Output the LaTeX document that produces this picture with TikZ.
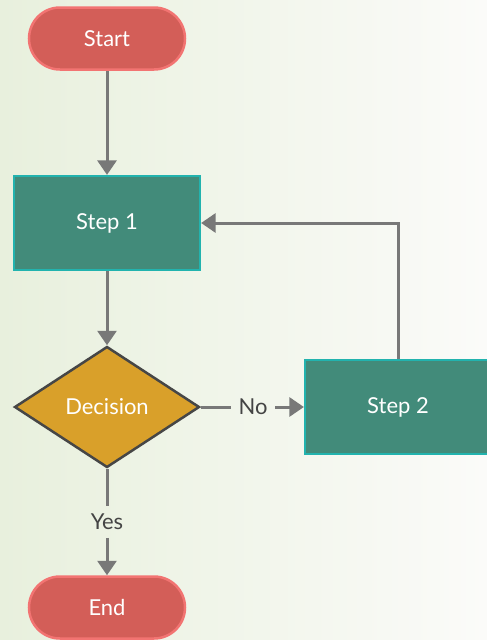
\documentclass[tikz,border=0pt]{standalone}
\usepackage{fontspec}
\setmainfont{Lato}
\usetikzlibrary{arrows.meta,shapes.geometric}
\definecolor{termfill}{HTML}{D35E58}
\definecolor{termline}{HTML}{F27472}
\definecolor{stepfill}{HTML}{428B7A}
\definecolor{stepline}{HTML}{22B3AE}
\definecolor{decfill}{HTML}{D9A02A}
\definecolor{decline}{HTML}{464646}
\definecolor{flow}{HTML}{787878}
\definecolor{labtext}{HTML}{444444}
\definecolor{bgleft}{HTML}{E8F0DD}
\definecolor{bgmid}{HTML}{F3F6EE}
\definecolor{bgright}{HTML}{FBFBF9}

\begin{document}
\begin{tikzpicture}[x=0.2mm,y=-0.2mm,
  terminal/.style={draw=termline,fill=termfill,line width=0.5mm,rounded corners=6.2mm,
    minimum width=31.2mm,minimum height=12.4mm,text=white,font=\fontsize{12.5}{14}\selectfont},
  stepbox/.style={draw=stepline,fill=stepfill,line width=0.45mm,
    minimum width=37.2mm,minimum height=18.8mm,text=white,font=\fontsize{12.5}{14}\selectfont},
  decision/.style={diamond,draw=decline,fill=decfill,line width=0.5mm,inner sep=0pt,
    minimum width=37mm,minimum height=24.2mm,text=white,font=\fontsize{12.5}{14}\selectfont},
  flowlabel/.style={text=labtext,inner sep=1.5mm,font=\fontsize{12.5}{14}\selectfont},
  flowline/.style={draw=flow,line width=0.6mm},
  flowarrow/.style={flowline,-{Triangle[length=2.9mm,width=3.8mm]}}]

  \useasboundingbox (0,0) rectangle (487,640);
  \shade[left color=bgleft,middle color=bgmid,right color=bgright] (0,0) rectangle (487,640);

  % nodes
  \node[terminal] (start) at (107,38.5) {Start};
  \node[stepbox] (step1) at (107,223) {Step 1};
  \node[decision] (dec) at (107,407) {Decision};
  \node[stepbox] (step2) at (398,407) {Step 2};
  \node[terminal] (end) at (107,607.5) {End};
  \node[flowlabel] (no) at (253,407) {No};
  \node[flowlabel] (yes) at (107,522) {Yes};
  \coordinate (corner) at (step2.north |- step1.east);

  % connectors
  \draw[flowarrow] (start) -- (step1);
  \draw[flowarrow] (step1) -- (dec);
  \draw[flowline] (dec) -- (no);
  \draw[flowarrow] (no) -- (step2);
  \draw[flowline] (dec) -- (yes);
  \draw[flowarrow] (yes) -- (end);
  \draw[flowarrow] (step2.north) -- (corner) -- (step1.east);
\end{tikzpicture}
\end{document}
